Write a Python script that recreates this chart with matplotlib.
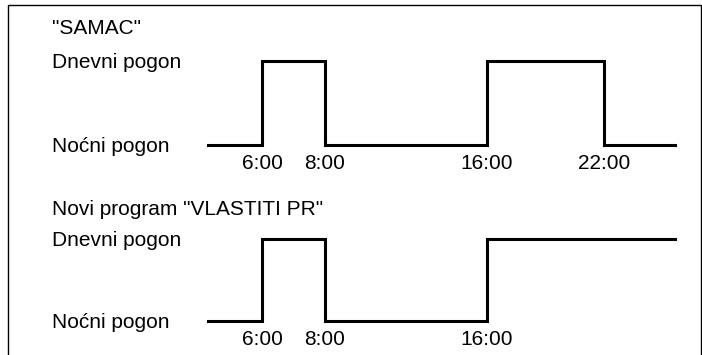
import numpy as np
import matplotlib
matplotlib.use("Agg")
import matplotlib.pyplot as plt
from matplotlib.lines import Line2D
from matplotlib import transforms

plt.rcParams['font.family'] = ['Liberation Sans', 'DejaVu Sans']

# ---- data ------------------------------------------------------------------
samac_title = '"SAMAC"'
samac_hours = [4, 6, 8, 16, 22, 24]
samac_mode = [0, 1, 0, 1, 0, 0]          # 0 = nocni, 1 = dnevni
samac_ticks = [6, 8, 16, 22]
samac_labels = ["6:00", "8:00", "16:00", "22:00"]

vlastiti_title = 'Novi program "VLASTITI PR"'
vlastiti_hours = [4, 6, 8, 16, 24]
vlastiti_mode = [0, 1, 0, 1, 1]
vlastiti_ticks = [6, 8, 16]
vlastiti_labels = ["6:00", "8:00", "16:00"]

mode_names = ["Noćni pogon", "Dnevni pogon"]

# ---- layout (pixels on a 702x355 canvas) -----------------------------------
W, H = 702, 355
knot_h = [4, 6, 8, 16, 22, 24]           # schematic (non linear) time axis
knot_p = [208, 262, 325, 487, 604, 675]
FS = 15


def fwd(x):
    return np.interp(x, knot_h, knot_p)


def inv(x):
    return np.interp(x, knot_p, knot_h)


fig = plt.figure(figsize=(W / 100, H / 100), dpi=100)


def panel(title, title_y, hours, mode, ticks, labels, y_hi, y_lo):
    x0 = knot_p[0] / W
    x1 = knot_p[-1] / W
    ax = fig.add_axes([x0, 1 - y_lo / H, x1 - x0, (y_lo - y_hi) / H])
    ax.set_xscale('function', functions=(fwd, inv))
    ax.set_xlim(knot_h[0], knot_h[-1])
    ax.set_ylim(0, 1)
    ax.plot(hours, mode, drawstyle='steps-post', color='black', lw=2.2,
            clip_on=False, solid_joinstyle='miter')
    for s in ax.spines.values():
        s.set_visible(False)
    ax.set_yticks([])
    ax.set_xticks(ticks)
    ax.set_xticklabels(labels, fontsize=FS)
    ax.tick_params(axis='x', length=0, pad=6.5)

    # mode names, caps centred on the line level
    tr = transforms.blended_transform_factory(fig.transFigure, ax.transData)
    tr = transforms.offset_copy(tr, fig=fig, y=-5.2, units='points')
    for lvl, name in enumerate(mode_names):
        ax.text(52 / W, lvl, name, transform=tr, fontsize=FS,
                ha='left', va='baseline')
    fig.text(52 / W, 1 - title_y / H, title, fontsize=FS,
             ha='left', va='baseline')
    return ax


panel(samac_title, 34, samac_hours, samac_mode, samac_ticks, samac_labels,
      61, 145)
panel(vlastiti_title, 215, vlastiti_hours, vlastiti_mode, vlastiti_ticks,
      vlastiti_labels, 239, 321)

# frame (open at the bottom)
fl, fr, ft = 7.5 / W, 700.5 / W, 1 - 5 / H
fig.add_artist(Line2D([fl, fl, fr, fr], [0, ft, ft, 0], color='black',
                      lw=1.0, transform=fig.transFigure))

fig.savefig("out.png", dpi=100)
